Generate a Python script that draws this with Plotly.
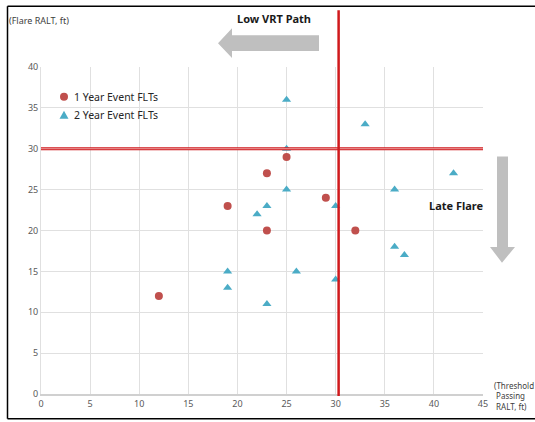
import plotly.graph_objects as go

# Data
one_year_x = [12, 19, 23, 23, 25, 29, 32]
one_year_y = [12, 23, 27, 20, 29, 24, 20]
two_year_x = [25, 33, 25, 25, 23, 22, 30, 36, 42, 19, 19, 26, 23, 30, 36, 37]
two_year_y = [36, 33, 30, 25, 23, 22, 23, 25, 27, 15, 13, 15, 11, 14, 18, 17]
threshold_x = 30.3
threshold_y = 30
x_ticks = [0, 5, 10, 15, 20, 25, 30, 35, 40, 45]
y_ticks = [0, 5, 10, 15, 20, 25, 30, 35, 40]

W, H = 535, 422
# plot area in pixels: x 41..483, y 67..396
L, R, T, B = 41, 483, 67, 396
ML, MT, MR, MB = L, T, W - R, H - B
PW, PH = R - L, B - T

def px(x):
    return (x - L) / PW

def py(y):
    return (B - y) / PH

fig = go.Figure()
fig.add_trace(go.Scatter(x=one_year_x, y=one_year_y, mode="markers", name="1 Year Event FLTs",
                         marker=dict(symbol="circle", size=8, color="#C0504D"), showlegend=False))
fig.add_trace(go.Scatter(x=two_year_x, y=two_year_y, mode="markers", name="2 Year Event FLTs",
                         marker=dict(symbol="triangle-up", size=8, color="#4BACC6"), showlegend=False))

shapes = []
# frame (left, top, bottom)
frame = dict(color="black", width=1.5)
shapes.append(dict(type="line", xref="paper", yref="paper", x0=px(7.5), x1=px(7.5), y0=py(421), y1=py(6),
                   line=frame, layer="below"))
shapes.append(dict(type="line", xref="paper", yref="paper", x0=px(7.5), x1=px(540), y0=py(6), y1=py(6),
                   line=frame, layer="below"))
shapes.append(dict(type="line", xref="paper", yref="paper", x0=px(7.5), x1=px(540), y0=py(421), y1=py(421),
                   line=frame, layer="below"))
# horizontal threshold (double line in plot area)
shapes.append(dict(type="line", xref="x", yref="y", x0=-0.2, x1=45, y0=threshold_y, y1=threshold_y,
                   line=dict(color="#D0191C", width=3)))
shapes.append(dict(type="line", xref="x", yref="y", x0=-0.2, x1=45, y0=threshold_y, y1=threshold_y,
                   line=dict(color="#F4C9C9", width=0.8)))
shapes.append(dict(type="line", xref="x", yref="y", x0=45, x1=50, y0=threshold_y, y1=threshold_y,
                   line=dict(color="#C00000", width=3)))
# vertical threshold
shapes.append(dict(type="line", xref="x", yref="paper", x0=threshold_x, x1=threshold_x, y0=py(398), y1=py(10),
                   line=dict(color="#D0191C", width=2.5)))
# left arrow
la = [(218, 43), (232, 28), (232, 35), (319, 35), (319, 51), (232, 51), (232, 58)]
path = "M " + " L ".join(f"{px(a)},{py(b)}" for a, b in la) + " Z"
shapes.append(dict(type="path", xref="paper", yref="paper", path=path,
                   fillcolor="#BFBFBF", line=dict(width=0)))
# down arrow
da = [(502, 264), (490, 248), (497, 248), (497, 157), (508, 157), (508, 248), (515, 248)]
path = "M " + " L ".join(f"{px(a)},{py(b)}" for a, b in da) + " Z"
shapes.append(dict(type="path", xref="paper", yref="paper", path=path,
                   fillcolor="#BFBFBF", line=dict(width=0)))
# legend symbols
shapes.append(dict(type="circle", xref="paper", yref="paper", x0=px(60), x1=px(68), y0=py(101), y1=py(93),
                   fillcolor="#C0504D", line=dict(width=0)))
tri = [(64, 111), (68.5, 119), (59.5, 119)]
path = "M " + " L ".join(f"{px(a)},{py(b)}" for a, b in tri) + " Z"
shapes.append(dict(type="path", xref="paper", yref="paper", path=path,
                   fillcolor="#4BACC6", line=dict(width=0)))

annotations = [
    dict(text="<b>Low VRT Path</b>", xref="paper", yref="paper", x=px(274), y=py(18), showarrow=False,
         font=dict(size=11, color="#1a1a1a", family="Noto Sans"), xanchor="center", yanchor="middle"),
    dict(text="<b>Late Flare</b>", xref="paper", yref="paper", x=px(456), y=py(206), showarrow=False,
         font=dict(size=11, color="#1a1a1a", family="Noto Sans"), xanchor="center", yanchor="middle"),
    dict(text="(Flare RALT, ft)", xref="paper", yref="paper", x=px(7), y=py(20), showarrow=False,
         font=dict(size=9, color="#404040", family="Noto Sans"), xanchor="left", yanchor="middle"),
    dict(text="(Threshold<br> Passing<br> RALT, ft)", xref="paper", yref="paper", x=px(492), y=py(398),
         showarrow=False, align="left",
         font=dict(size=8, color="#404040", family="Noto Sans"), xanchor="left", yanchor="middle"),
    dict(text="1 Year Event FLTs", xref="paper", yref="paper", x=px(72), y=py(97), showarrow=False,
         font=dict(size=10.5, color="#262626", family="Noto Sans"), xanchor="left", yanchor="middle"),
    dict(text="2 Year Event FLTs", xref="paper", yref="paper", x=px(72), y=py(115), showarrow=False,
         font=dict(size=10.5, color="#262626", family="Noto Sans"), xanchor="left", yanchor="middle"),
]

fig.update_layout(
    width=W, height=H,
    margin=dict(l=ML, r=MR, t=MT, b=MB),
    paper_bgcolor="white", plot_bgcolor="white",
    shapes=shapes, annotations=annotations,
    showlegend=False,
    font=dict(family="Noto Sans"),
)
fig.update_xaxes(range=[0, 45], tickvals=x_ticks, showgrid=True, gridcolor="#E0E0E0", gridwidth=1,
                 showline=True, linecolor="#D0D0D0", linewidth=1.5, zeroline=False,
                 tickfont=dict(size=9, color="#595959"), ticks="", fixedrange=True)
fig.update_yaxes(range=[0, 40], tickvals=y_ticks, showgrid=True, gridcolor="#E0E0E0", gridwidth=1,
                 showline=True, linecolor="#E0E0E0", linewidth=1, zeroline=False,
                 tickfont=dict(size=9, color="#595959"), ticks="", fixedrange=True)

fig.write_html("out.html", config={"displayModeBar": False},
               post_script="document.body.style.margin='0px';document.body.style.overflow='hidden';")
